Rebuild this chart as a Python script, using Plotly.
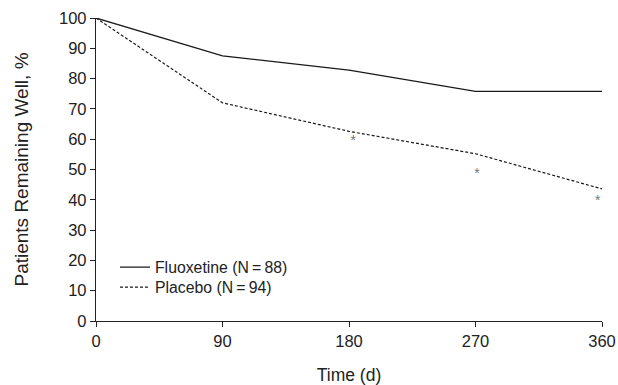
import plotly.graph_objects as go

days = [0, 90, 180, 270, 360]
fluoxetine = [100, 87.5, 82.8, 75.8, 75.8]
placebo = [100, 72.0, 62.6, 55.2, 43.6]
sig_days = [183, 271, 357]
sig_vals = [59.3, 48.5, 39.3]

fig = go.Figure()
fig.add_trace(go.Scatter(x=days, y=fluoxetine, mode="lines", name="Fluoxetine (N\u2009=\u200988)",
                         line=dict(color="#1a1a1a", width=1.3), cliponaxis=False, legend="legend"))
fig.add_trace(go.Scatter(x=days, y=placebo, mode="lines", name="Placebo (N\u2009=\u200994)",
                         line=dict(color="#1a1a1a", width=1.2, dash="3px,2px"), cliponaxis=False,
                         legend="legend2"))
fig.add_trace(go.Scatter(x=sig_days, y=sig_vals, mode="text", text=["*"] * 3, showlegend=False,
                         textfont=dict(color="#777777", size=14), cliponaxis=False))

font = dict(family="Liberation Sans, Arial, sans-serif", color="#222222")
legend_common = dict(xanchor="left", yanchor="top", bgcolor="rgba(0,0,0,0)",
                     font=dict(size=15.8, **font), itemwidth=30)
fig.update_layout(
    width=618, height=385,
    margin=dict(l=96, r=16, t=18, b=64),
    plot_bgcolor="white", paper_bgcolor="white",
    font=dict(size=16, **font),
    showlegend=True,
    legend=dict(x=0.0375, y=0.233, **legend_common),
    legend2=dict(x=0.0375, y=0.167, **legend_common),
    xaxis=dict(range=[0, 360], tickvals=days, ticks="outside", ticklen=5, tickcolor="#222",
               showline=True, linecolor="#222", linewidth=1.3, showgrid=False, zeroline=False,
               automargin=False,
               title=dict(text="Time (d)", font=dict(size=17.5, **font), standoff=19),
               tickfont=dict(size=16.5, **font)),
    yaxis=dict(range=[0, 100], tickvals=list(range(0, 101, 10)), ticks="outside", ticklen=5, tickcolor="#222",
               showline=True, linecolor="#222", linewidth=1.3, showgrid=False, zeroline=False,
               automargin=False,
               title=dict(text="Patients Remaining Well, %", font=dict(size=19, **font), standoff=25),
               tickfont=dict(size=16.5, **font)),
)
fig.write_html("out.html", config={"displayModeBar": False},
               post_script="document.body.style.margin='0';document.documentElement.style.overflow='hidden';")
